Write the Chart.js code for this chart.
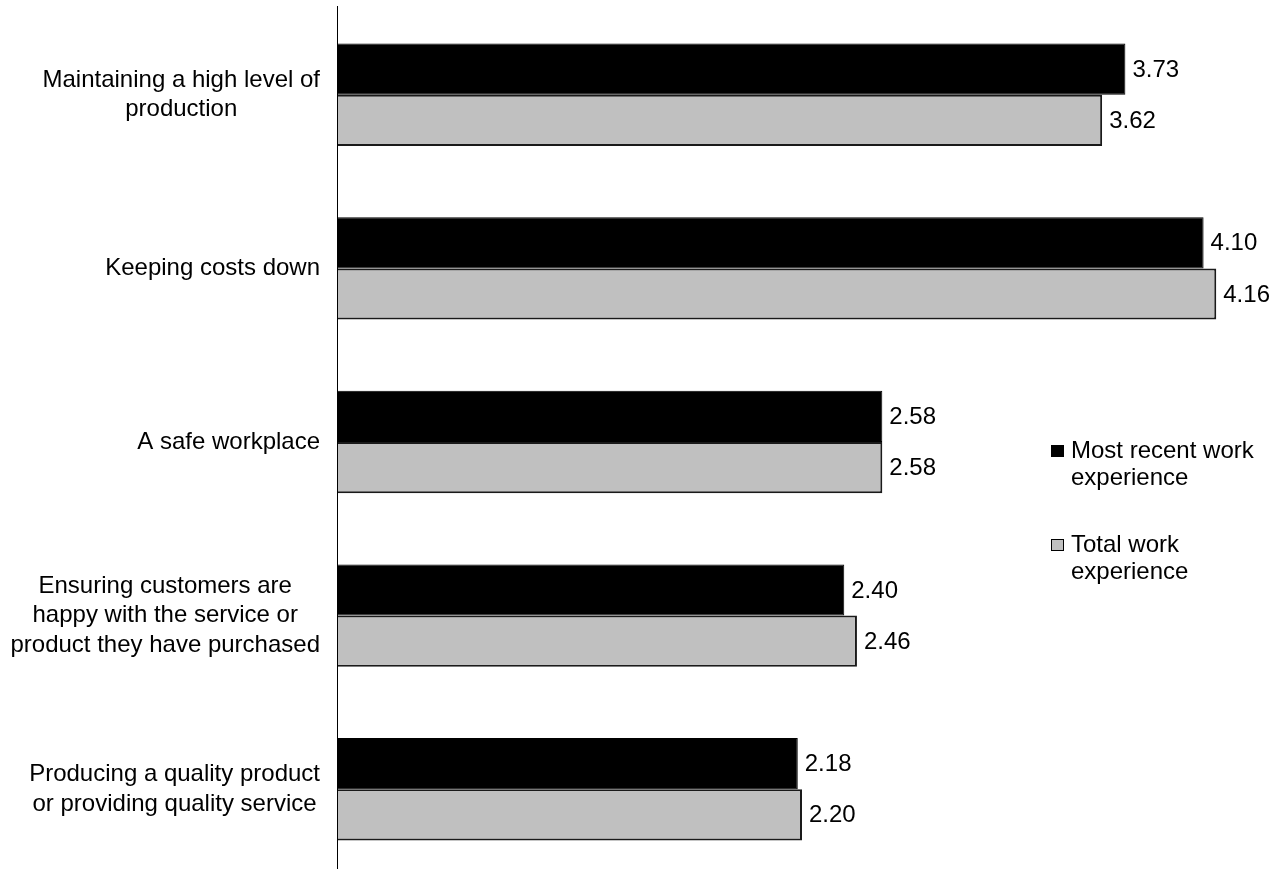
<!DOCTYPE html>
<html>
<head>
<meta charset="utf-8">
<script src="https://cdn.jsdelivr.net/npm/chart.js@4/dist/chart.umd.min.js"></script>
<style>
  html, body { margin: 0; padding: 0; background: #fff; overflow: hidden; }
  #wrap { width: 1278px; height: 880px; position: relative; }
</style>
</head>
<body>
<div id="wrap"><canvas id="chart"></canvas></div>
<script>
var categories = [
    ["Maintaining a high level of", "production"],
    ["Keeping costs down"],
    ["A safe workplace"],
    ["Ensuring customers are", "happy with the service or", "product they have purchased"],
    ["Producing a quality product", "or providing quality service"]
];
var recentValues = [3.73, 4.10, 2.58, 2.40, 2.18];
var totalValues = [3.62, 4.16, 2.58, 2.46, 2.20];
var seriesNames = [["Most recent work", "experience"], ["Total work", "experience"]];

var FONT = "24px 'Liberation Sans', Arial, sans-serif";

var extras = {
    id: "extras",
    afterDatasetsDraw: function (chart) {
        var ctx = chart.ctx;
        var area = chart.chartArea;
        var yScale = chart.scales.y;
        ctx.save();
        // vertical axis line
        ctx.strokeStyle = "#000";
        ctx.lineWidth = 1;
        ctx.beginPath();
        ctx.moveTo(area.left + 0.5, 6);
        ctx.lineTo(area.left + 0.5, chart.height);
        ctx.stroke();

        ctx.font = FONT;
        ctx.fillStyle = "#000";
        // category labels: block right aligned, lines centred
        ctx.textBaseline = "middle";
        ctx.textAlign = "center";
        for (var i = 0; i < categories.length; i++) {
            var lines = categories[i];
            var w = 0;
            for (var j = 0; j < lines.length; j++) {
                w = Math.max(w, ctx.measureText(lines[j]).width);
            }
            var cx = 320 - w / 2;
            var cy = yScale.getPixelForValue(i);
            for (var j = 0; j < lines.length; j++) {
                ctx.fillText(lines[j], cx, cy + (j - (lines.length - 1) / 2) * 29.5);
            }
        }

        // value labels
        ctx.textAlign = "left";
        chart.data.datasets.forEach(function (ds, d) {
            var meta = chart.getDatasetMeta(d);
            meta.data.forEach(function (bar, k) {
                ctx.fillText(ds.data[k].toFixed(2), bar.x + 7, bar.y + 1);
            });
        });

        // legend
        var legendY = [451, 545];
        chart.data.datasets.forEach(function (ds, d) {
            ctx.fillStyle = ds.backgroundColor;
            ctx.fillRect(1051, legendY[d] - 6, 13, 12);
            ctx.strokeStyle = "#000";
            ctx.lineWidth = 1;
            ctx.strokeRect(1051.5, legendY[d] - 5.5, 12, 11);
            ctx.fillStyle = "#000";
            var names = seriesNames[d];
            for (var j = 0; j < names.length; j++) {
                ctx.fillText(names[j], 1071, legendY[d] + j * 27);
            }
        });
        ctx.restore();
    }
};

new Chart("chart", {
    type: "bar",
    data: {
        labels: categories,
        datasets: [{
            label: "Most recent work experience",
            data: recentValues,
            backgroundColor: "#000000",
            borderColor: "#000000",
            borderWidth: 1
        }, {
            label: "Total work experience",
            data: totalValues,
            backgroundColor: "#c0c0c0",
            borderColor: "#1a1a1a",
            borderWidth: 2
        }]
    },
    options: {
        indexAxis: "y",
        responsive: true,
        maintainAspectRatio: false,
        animation: false,
        layout: { padding: { left: 337, right: 11, top: 8, bottom: 4 } },
        categoryPercentage: 0.59,
        barPercentage: 1.0,
        scales: {
            x: { display: false, min: 0, max: 4.4 },
            y: { display: false }
        },
        plugins: {
            legend: { display: false },
            tooltip: { enabled: false }
        }
    },
    plugins: [extras]
});
</script>
</body>
</html>
